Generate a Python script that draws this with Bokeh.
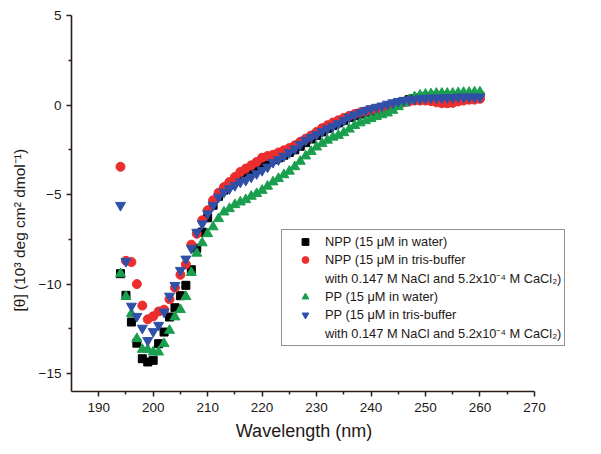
from bokeh.plotting import figure
from bokeh.models import ColumnDataSource, Legend, LegendItem, Range1d, FixedTicker, Title
from bokeh.embed import file_html
from bokeh.resources import INLINE

wavelength = list(range(194, 261))

npp_water = [-9.42, -10.63, -12.12, -13.3, -14.17, -14.35, -14.26, -13.33, -12.68, -11.84,
             -11.32, -10.65, -10.07, -9.2, -8.0, -7.1, -6.3, -5.6, -5.1, -4.75,
             -4.45, -4.2, -3.95, -3.75, -3.6, -3.45, -3.3, -3.2, -3.05, -2.95,
             -2.8, -2.65, -2.5, -2.3, -2.1, -1.9, -1.7, -1.5, -1.3, -1.15,
             -1.0, -0.85, -0.7, -0.6, -0.5, -0.4, -0.35, -0.3, -0.25, -0.2,
             -0.05, 0.1, 0.2, 0.3, 0.35, 0.4, 0.45, 0.45, 0.5, 0.5,
             0.5, 0.5, 0.5, 0.5, 0.5, 0.5, 0.5]

npp_tris = [-3.45, -8.7, -8.77, -10.0, -11.2, -11.97, -11.8, -11.53, -11.43, -10.85,
            -10.2, -9.48, -8.9, -7.8, -7.19, -6.44, -5.88, -5.32, -4.9, -4.58,
            -4.3, -4.02, -3.74, -3.55, -3.37, -3.18, -2.94, -2.85, -2.78, -2.65,
            -2.53, -2.4, -2.25, -2.05, -1.88, -1.7, -1.5, -1.3, -1.13, -0.98,
            -0.85, -0.72, -0.6, -0.5, -0.42, -0.35, -0.28, -0.22, -0.15, -0.1,
            0.0, 0.1, 0.15, 0.2, 0.25, 0.25, 0.25, 0.22, 0.15, 0.1,
            0.1, 0.12, 0.2, 0.25, 0.3, 0.3, 0.35]

pp_water = [-9.42, -10.7, -11.65, -13.05, -13.65, -13.65, -13.8, -13.8, -13.33, -12.59,
            -11.84, -11.43, -10.7, -9.36, -8.28, -7.7, -7.19, -6.81, -6.35, -5.98,
            -5.79, -5.57, -5.42, -5.29, -5.1, -4.95, -4.77, -4.54, -4.3, -4.11,
            -3.9, -3.7, -3.45, -3.15, -2.85, -2.6, -2.35, -2.15, -1.97, -1.8,
            -1.7, -1.55, -1.35, -1.15, -1.0, -0.88, -0.76, -0.65, -0.55, -0.45,
            -0.3, -0.1, 0.1, 0.3, 0.45, 0.55, 0.6, 0.62, 0.65, 0.65,
            0.65, 0.65, 0.68, 0.7, 0.7, 0.72, 0.72]

pp_tris = [-5.6, -8.73, -11.23, -11.8, -12.46, -13.15, -12.65, -12.3, -11.56, -10.67,
           -10.07, -9.23, -8.6, -8.0, -7.1, -6.63, -6.07, -5.6, -5.14, -4.86,
           -4.67, -4.49, -4.3, -4.2, -4.02, -3.83, -3.65, -3.46, -3.2, -3.05,
           -2.85, -2.65, -2.45, -2.2, -1.97, -1.8, -1.65, -1.48, -1.32, -1.18,
           -1.04, -0.85, -0.67, -0.55, -0.43, -0.3, -0.2, -0.12, -0.05, 0.05,
           0.13, 0.2, 0.26, 0.3, 0.33, 0.35, 0.38, 0.4, 0.4, 0.4,
           0.42, 0.42, 0.45, 0.45, 0.45, 0.45, 0.45]

x_ticks = [190, 200, 210, 220, 230, 240, 250, 260, 270]
y_ticks = [-15, -10, -5, 0, 5]

labels = ["NPP (15 \u03bcM in water)",
          "NPP (15 \u03bcM in tris-buffer",
          "with 0.147 M NaCl and 5.2x10\u207b\u2074 M CaCl\u2082)",
          "PP (15 \u03bcM in water)",
          "PP (15 \u03bcM in tris-buffer",
          "with 0.147 M NaCl and 5.2x10\u207b\u2074 M CaCl\u2082)"]

x_title = "Wavelength (nm)"
y_title = "[\u03b8] (10\u00b3 deg cm\u00b2 dmol\u207b\u00b9)"

AX = "#2b1d16"
FONT = "Liberation Sans"
NBSP = "\u00a0"

p = figure(width=596, height=445, output_backend="svg", toolbar_location=None,
           x_range=Range1d(185, 281.4), y_range=Range1d(-16, 5),
           min_border_left=70, min_border_right=0, min_border_top=15, min_border_bottom=54)
p.outline_line_color = None
p.xgrid.visible = False
p.ygrid.visible = False
p.background_fill_color = "white"
p.border_fill_color = "white"

src = ColumnDataSource(dict(x=wavelength, npp_water=npp_water, npp_tris=npp_tris,
                            pp_water=pp_water, pp_tris=pp_tris))

r1 = p.scatter("x", "npp_water", source=src, marker="square", size=8,
               fill_color="#000000", line_color="#000000")
r2 = p.scatter("x", "npp_tris", source=src, marker="circle", size=9,
               fill_color="#EB2D2D", line_color="#EB2D2D")
r3 = p.scatter("x", "pp_water", source=src, marker="triangle", size=10,
               fill_color="#1A9F4E", line_color="#1A9F4E")
r4 = p.scatter("x", "pp_tris", source=src, marker="inverted_triangle", size=10,
               fill_color="#3050A8", line_color="#3050A8")
blank = p.scatter(x=[], y=[], marker="square", size=1, fill_alpha=0, line_alpha=0)

for ax in (p.xaxis[0], p.yaxis[0]):
    ax.axis_line_color = AX
    ax.axis_line_width = 1.6
    ax.major_tick_line_color = AX
    ax.minor_tick_line_color = AX
    ax.major_tick_line_width = 1.5
    ax.minor_tick_line_width = 1.5
    ax.major_tick_out = 5
    ax.major_tick_in = 0
    ax.minor_tick_out = 3
    ax.minor_tick_in = 0
    ax.major_label_text_font = FONT
    ax.major_label_text_font_size = "13.5px"
    ax.major_label_text_color = "#231815"
    ax.axis_label_text_font = FONT
    ax.axis_label_text_font_style = "normal"
    ax.axis_label_text_color = "#231815"

p.xaxis.bounds = (185, 270)
p.xaxis.ticker = FixedTicker(ticks=x_ticks, minor_ticks=[195, 205, 215, 225, 235, 245, 255, 265])
p.yaxis.ticker = FixedTicker(ticks=y_ticks, minor_ticks=[-12.5, -7.5, -2.5, 2.5])
# pad with no-break spaces so the x title is centred under 185-270
p.xaxis.axis_label = x_title + NBSP * 12
p.xaxis.axis_label_text_font_size = "18px"
p.xaxis.major_label_standoff = 6
p.xaxis.axis_label_standoff = 6
p.yaxis.major_label_standoff = 5

# y title as a side title, anchored from the bottom of the frame
ytitle = Title(text=y_title, align="left", offset=80, standoff=16,
               text_font=FONT, text_font_size="15.5px", text_font_style="normal",
               text_color="#231815")
p.add_layout(ytitle, "left")

items = [LegendItem(label=labels[0], renderers=[r1]),
         LegendItem(label=labels[1], renderers=[r2]),
         LegendItem(label=labels[2], renderers=[blank]),
         LegendItem(label=labels[3], renderers=[r3]),
         LegendItem(label=labels[4], renderers=[r4]),
         LegendItem(label=labels[5], renderers=[blank])]
legend = Legend(items=items, location=(210, 45), orientation="vertical",
                border_line_color=AX, border_line_width=1.2, background_fill_color="white",
                label_text_font=FONT, label_text_font_size="12.8px", label_text_color="#231815",
                glyph_width=40, glyph_height=17, label_height=17, spacing=1,
                padding=3, margin=0, label_standoff=0)
p.add_layout(legend, "center")

open("out.html", "w").write(file_html(p, INLINE))
